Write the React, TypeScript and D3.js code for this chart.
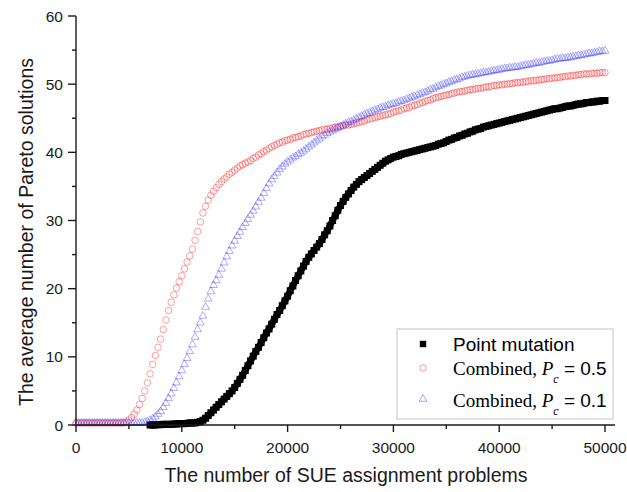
import React from "react";
import * as d3 from "d3";

// x grid: one value every STEP evaluations
const STEP = 250;

// Combined, Pc = 0.5 (red circles), x = 0 .. 50000 step 250
const combined05: number[] = [
  0.3, 0.3, 0.3, 0.3,
  0.3, 0.3, 0.3, 0.3,
  0.3, 0.3, 0.3, 0.3,
  0.3, 0.3, 0.3, 0.3,
  0.3, 0.3, 0.3, 0.4,
  0.7, 1.1, 1.6, 2.2,
  3.0, 3.9, 5.0, 6.2,
  7.5, 8.9, 10.2, 11.4,
  12.6, 14.0, 15.4, 16.8,
  18.0, 19.1, 20.1, 21.0,
  21.9, 22.9, 23.9, 24.8,
  25.8, 27.1, 28.4, 29.8,
  31.1, 32.1, 33.0, 33.7,
  34.3, 34.8, 35.3, 35.7,
  36.1, 36.4, 36.8, 37.1,
  37.4, 37.7, 38.0, 38.2,
  38.4, 38.6, 38.8, 39.1,
  39.3, 39.6, 39.8, 40.1,
  40.3, 40.6, 40.8, 41.0,
  41.2, 41.4, 41.5, 41.7,
  41.8, 41.9, 42.1, 42.2,
  42.3, 42.4, 42.6, 42.7,
  42.8, 42.9, 43.0, 43.1,
  43.2, 43.3, 43.4, 43.4,
  43.5, 43.6, 43.7, 43.7,
  43.8, 43.9, 44.0, 44.0,
  44.1, 44.2, 44.3, 44.4,
  44.5, 44.6, 44.8, 44.9,
  45.0, 45.1, 45.2, 45.3,
  45.4, 45.5, 45.6, 45.7,
  45.9, 46.0, 46.1, 46.2,
  46.4, 46.5, 46.6, 46.8,
  46.9, 47.0, 47.2, 47.3,
  47.5, 47.6, 47.7, 47.9,
  48.0, 48.1, 48.2, 48.3,
  48.4, 48.5, 48.6, 48.7,
  48.8, 48.9, 48.9, 49.0,
  49.1, 49.2, 49.2, 49.3,
  49.4, 49.4, 49.5, 49.6,
  49.6, 49.7, 49.8, 49.8,
  49.9, 49.9, 50.0, 50.0,
  50.1, 50.1, 50.2, 50.2,
  50.3, 50.3, 50.4, 50.4,
  50.5, 50.5, 50.6, 50.6,
  50.7, 50.7, 50.8, 50.8,
  50.9, 50.9, 51.0, 51.0,
  51.1, 51.1, 51.2, 51.2,
  51.3, 51.3, 51.4, 51.4,
  51.5, 51.5, 51.5, 51.6,
  51.6, 51.6, 51.7, 51.7,
  51.7,
];

// Combined, Pc = 0.1 (blue triangles), x = 0 .. 50000 step 250
const combined01: number[] = [
  0.3, 0.3, 0.3, 0.3,
  0.3, 0.3, 0.3, 0.3,
  0.3, 0.3, 0.3, 0.3,
  0.3, 0.3, 0.3, 0.3,
  0.3, 0.3, 0.3, 0.3,
  0.3, 0.3, 0.3, 0.3,
  0.3, 0.3, 0.4, 0.5,
  0.7, 0.9, 1.2, 1.6,
  2.0, 2.6, 3.2, 3.9,
  4.6, 5.4, 6.2, 7.1,
  8.0, 8.9, 9.8, 10.8,
  11.8, 12.9, 14.0, 15.0,
  16.0, 17.3, 18.5, 19.6,
  20.5, 21.2, 22.0, 22.9,
  23.8, 24.7, 25.5, 26.3,
  27.0, 27.7, 28.3, 29.0,
  29.6, 30.2, 30.8, 31.4,
  32.0, 32.7, 33.3, 34.0,
  34.7, 35.4, 36.0, 36.5,
  37.0, 37.5, 37.9, 38.3,
  38.6, 38.9, 39.2, 39.4,
  39.7, 39.9, 40.2, 40.5,
  40.8, 41.1, 41.4, 41.7,
  42.0, 42.3, 42.5, 42.8,
  43.0, 43.2, 43.4, 43.6,
  43.8, 44.0, 44.2, 44.4,
  44.5, 44.7, 44.9, 45.1,
  45.3, 45.5, 45.7, 45.8,
  46.0, 46.2, 46.3, 46.5,
  46.6, 46.7, 46.9, 47.0,
  47.1, 47.2, 47.4, 47.5,
  47.6, 47.8, 47.9, 48.1,
  48.2, 48.4, 48.5, 48.7,
  48.8, 49.0, 49.2, 49.3,
  49.5, 49.7, 49.8, 50.0,
  50.1, 50.3, 50.4, 50.6,
  50.7, 50.8, 51.0, 51.1,
  51.2, 51.3, 51.4, 51.4,
  51.5, 51.6, 51.7, 51.7,
  51.8, 51.9, 52.0, 52.0,
  52.1, 52.2, 52.3, 52.3,
  52.4, 52.4, 52.5, 52.5,
  52.6, 52.7, 52.8, 52.8,
  52.9, 53.0, 53.1, 53.1,
  53.2, 53.3, 53.4, 53.4,
  53.5, 53.6, 53.7, 53.7,
  53.8, 53.8, 53.9, 53.9,
  54.0, 54.1, 54.2, 54.2,
  54.3, 54.4, 54.5, 54.5,
  54.6, 54.7, 54.8, 54.8,
  54.9,
];

// Point mutation (black squares), x = 7000 .. 50000 step 250
const POINT_START = 7000;
const pointMutation: number[] = [
  0.0, 0.0, 0.0, 0.05,
  0.05, 0.1, 0.1, 0.1,
  0.1, 0.15, 0.15, 0.2,
  0.2, 0.2, 0.25, 0.3,
  0.3, 0.3, 0.4, 0.5,
  0.7, 1.0, 1.4, 1.8,
  2.2, 2.6, 3.0, 3.4,
  3.8, 4.2, 4.6, 5.0,
  5.5, 6.1, 6.7, 7.3,
  8.0, 8.7, 9.4, 10.1,
  10.8, 11.4, 12.1, 12.8,
  13.5, 14.1, 14.8, 15.5,
  16.2, 16.8, 17.5, 18.2,
  18.9, 19.7, 20.4, 21.2,
  21.9, 22.6, 23.3, 24.0,
  24.6, 25.1, 25.6, 26.1,
  26.6, 27.2, 27.9, 28.5,
  29.2, 30.0, 30.7, 31.5,
  32.2, 32.8, 33.4, 33.9,
  34.4, 34.9, 35.3, 35.7,
  36.0, 36.3, 36.6, 36.9,
  37.2, 37.5, 37.8, 38.1,
  38.4, 38.7, 38.9, 39.1,
  39.3, 39.4, 39.5, 39.7,
  39.8, 39.9, 40.0, 40.1,
  40.2, 40.3, 40.4, 40.5,
  40.6, 40.7, 40.8, 40.9,
  41.0, 41.2, 41.3, 41.4,
  41.6, 41.8, 41.9, 42.1,
  42.2, 42.4, 42.5, 42.7,
  42.8, 43.0, 43.1, 43.3,
  43.4, 43.5, 43.7, 43.8,
  43.9, 44.0, 44.1, 44.2,
  44.3, 44.4, 44.5, 44.6,
  44.7, 44.8, 44.9, 45.0,
  45.1, 45.2, 45.3, 45.4,
  45.5, 45.6, 45.7, 45.8,
  45.9, 46.0, 46.1, 46.2,
  46.3, 46.4, 46.4, 46.5,
  46.6, 46.7, 46.8, 46.8,
  46.9, 47.0, 47.1, 47.1,
  47.2, 47.3, 47.3, 47.4,
  47.4, 47.5, 47.5, 47.6,
  47.6,
];

const xMajorTicks = [0, 10000, 20000, 30000, 40000, 50000];
const xMinorTicks = [5000, 15000, 25000, 35000, 45000];
const yMajorTicks = [0, 10, 20, 30, 40, 50, 60];
const yMinorTicks = [5, 15, 25, 35, 45, 55];

const xLabel = "The number of SUE assignment problems";
const yLabel = "The average number of Pareto solutions";

const SANS = "'Liberation Sans', Arial, sans-serif";
const SERIF = "'Liberation Serif', 'Times New Roman', serif";

const RED = "#ff0000";
const BLUE = "#0000ff";

export default function App() {
  const W = 627;
  const H = 492;
  const x = d3.scaleLinear().domain([0, 50000]).range([76, 605]);
  const y = d3.scaleLinear().domain([0, 60]).range([425, 16]);
  const axisRight = 615;

  const redPts = combined05.map((v, i) => [x(i * STEP), y(v)] as [number, number]);
  const bluePts = combined01.map((v, i) => [x(i * STEP), y(v)] as [number, number]);
  const blackPts = pointMutation.map(
    (v, i) => [x(POINT_START + i * STEP), y(v)] as [number, number]
  );

  const tri = d3.symbol(d3.symbolTriangle, 26)() as string;
  const sq = 7;
  const blackLine = d3.line()(blackPts) as string;

  return (
    <svg
      width={W}
      height={H}
      style={{ position: "absolute", left: 0, top: 0, background: "#fff" }}
    >
      <rect x={0} y={0} width={W} height={H} fill="#fff" />

      {/* black squares (dense, drawn as a band) */}
      <path d={blackLine} fill="none" stroke="#000" strokeWidth={6.5} strokeLinejoin="round" />
      <g fill="#000">
        {blackPts.map(([px, py], i) => (
          <rect key={i} x={px - sq / 2} y={py - sq / 2} width={sq} height={sq} />
        ))}
      </g>

      {/* red circles */}
      <g fill="none" stroke={RED} strokeOpacity={0.42} strokeWidth={0.9}>
        {redPts.map(([px, py], i) => (
          <circle key={i} cx={px} cy={py} r={3.3} />
        ))}
      </g>

      {/* blue triangles */}
      <g fill="none" stroke={BLUE} strokeOpacity={0.36} strokeWidth={0.9}>
        {bluePts.map(([px, py], i) => (
          <path key={i} d={tri} transform={`translate(${px},${py})`} />
        ))}
      </g>

      {/* axes */}
      <g stroke="#1a1a1a" strokeWidth={1.4} fill="none">
        <line x1={x(0)} x2={axisRight} y1={y(0)} y2={y(0)} />
        <line x1={x(0)} x2={x(0)} y1={y(0)} y2={y(60)} />
        {xMajorTicks.map((t) => (
          <line key={"xm" + t} x1={x(t)} x2={x(t)} y1={y(0)} y2={y(0) + 7} />
        ))}
        {xMinorTicks.map((t) => (
          <line key={"xn" + t} x1={x(t)} x2={x(t)} y1={y(0)} y2={y(0) + 4} />
        ))}
        {yMajorTicks.map((t) => (
          <line key={"ym" + t} x1={x(0) - 8} x2={x(0)} y1={y(t)} y2={y(t)} />
        ))}
        {yMinorTicks.map((t) => (
          <line key={"yn" + t} x1={x(0) - 4} x2={x(0)} y1={y(t)} y2={y(t)} />
        ))}
      </g>

      <g fontFamily={SANS} fontSize={15.5} fill="#1a1a1a">
        {xMajorTicks.map((t) => (
          <text key={"xl" + t} x={x(t)} y={453} textAnchor="middle">
            {String(t)}
          </text>
        ))}
        {yMajorTicks.map((t) => (
          <text key={"yl" + t} x={63} y={y(t) + 5.5} textAnchor="end">
            {String(t)}
          </text>
        ))}
      </g>

      <text
        x={346}
        y={482}
        textAnchor="middle"
        fontFamily={SANS}
        fontSize={19.5}
        fill="#1a1a1a"
      >
        {xLabel}
      </text>
      <text
        transform="translate(33,232) rotate(-90)"
        textAnchor="middle"
        fontFamily={SANS}
        fontSize={19.5}
        fill="#1a1a1a"
      >
        {yLabel}
      </text>

      {/* legend */}
      <rect x={397} y={329} width={216} height={90} fill="#fff" stroke="#c4c4c4" strokeWidth={1} />
      <rect x={423 - 3.2} y={344 - 3.2} width={6.4} height={6.4} fill="#000" />
      <circle cx={423} cy={368} r={3.2} fill="none" stroke={RED} strokeOpacity={0.45} strokeWidth={0.9} />
      <path d={tri} transform="translate(423,399)" fill="none" stroke={BLUE} strokeOpacity={0.4} strokeWidth={0.9} />

      <text x={453} y={351} fontFamily={SANS} fontSize={19} fill="#000">
        Point mutation
      </text>
      <text x={453} y={375} fontSize={19} fill="#000">
        <tspan fontFamily={SERIF}>Combined, </tspan>
        <tspan fontFamily={SERIF} fontStyle="italic">P</tspan>
        <tspan fontFamily={SERIF} fontStyle="italic" fontSize={12} dy={8}>c</tspan>
        <tspan fontFamily={SANS} dy={-8}>{" = 0.5"}</tspan>
      </text>
      <text x={453} y={407} fontSize={19} fill="#000">
        <tspan fontFamily={SERIF}>Combined, </tspan>
        <tspan fontFamily={SERIF} fontStyle="italic">P</tspan>
        <tspan fontFamily={SERIF} fontStyle="italic" fontSize={12} dy={8}>c</tspan>
        <tspan fontFamily={SANS} dy={-8}>{" = 0.1"}</tspan>
      </text>
    </svg>
  );
}
